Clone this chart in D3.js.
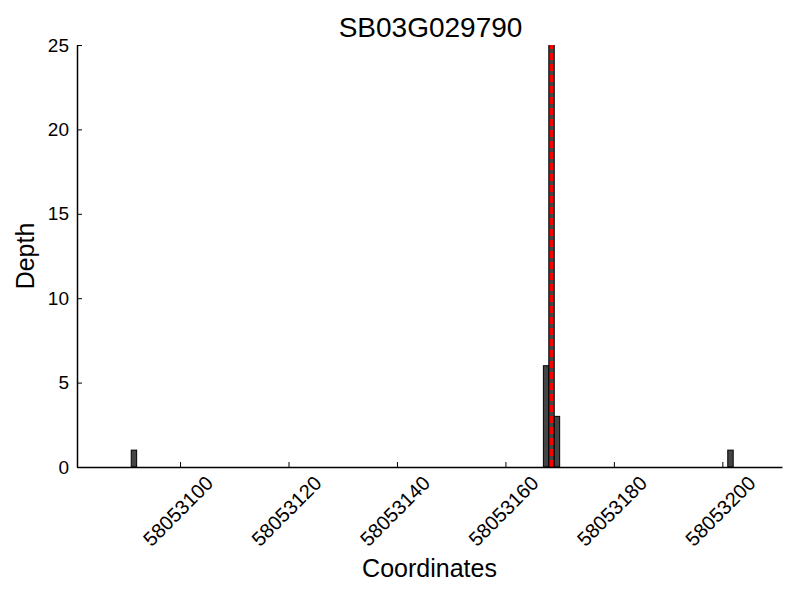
<!DOCTYPE html>
<html>
<head>
<meta charset="utf-8">
<script src="https://cdn.jsdelivr.net/npm/d3@7"></script>
<style>
  body { margin: 0; background: #fff; }
  text { font-family: "Liberation Sans", Arial, sans-serif; fill: #000; }
</style>
</head>
<body>
<div id="chart"></div>
<script>
// values
const title = 'SB03G029790';
const binStarts = [58053091, 58053167, 58053168, 58053169, 58053201];
const depths = [1, 6, 26, 3, 1];
const markerPos = 58053168.5;
const xDomain = [58053081, 58053211];
const xTicks = [58053100, 58053120, 58053140, 58053160, 58053180, 58053200];
const yTicks = [0, 5, 10, 15, 20, 25];

const width = 800;
const height = 600;
const margin = { top: 45, right: 18, bottom: 133, left: 77 };
const w = width - margin.left - margin.right;
const h = height - margin.top - margin.bottom;

const svg = d3.select('#chart')
    .append('svg')
    .attr('width', width)
    .attr('height', height);

svg.append('defs').append('clipPath')
    .attr('id', 'plot-clip')
    .append('rect')
    .attr('width', w)
    .attr('height', h);

const g = svg.append('g')
    .attr('transform', `translate(${margin.left}, ${margin.top})`);

const x = d3.scaleLinear().domain(xDomain).range([0, w]);
const y = d3.scaleLinear().domain([0, 25]).range([h, 0]);

// bars
const bars = g.append('g').attr('clip-path', 'url(#plot-clip)');
bars.selectAll('rect')
    .data(binStarts)
    .enter()
    .append('rect')
    .attr('x', d => x(d))
    .attr('y', (d, i) => y(depths[i]))
    .attr('width', d => x(d + 1) - x(d))
    .attr('height', (d, i) => y(0) - y(depths[i]))
    .attr('fill', '#444444')
    .attr('stroke', '#000')
    .attr('stroke-width', 1);

// marker line
bars.append('line')
    .attr('x1', x(markerPos))
    .attr('x2', x(markerPos))
    .attr('y1', y(0))
    .attr('y2', y(25))
    .attr('stroke', '#ff0000')
    .attr('stroke-width', 3)
    .attr('stroke-dasharray', '7,4');

// axes, ticks point inward
const xAxis = d3.axisBottom(x).tickValues(xTicks).tickSizeInner(-5).tickSizeOuter(0).tickFormat(d3.format('d'));
const yAxis = d3.axisLeft(y).tickValues(yTicks).tickSizeInner(-5).tickSizeOuter(0);

const gx = g.append('g')
    .attr('transform', `translate(0, ${h})`)
    .call(xAxis);
gx.select('.domain').attr('stroke-width', 1.5);
gx.selectAll('text')
    .attr('font-size', 20)
    .attr('text-anchor', 'middle')
    .attr('dy', null)
    .attr('y', 0)
    .attr('dominant-baseline', 'central')
    .attr('transform', 'translate(-2.5, 44) rotate(-45)');

const gy = g.append('g').call(yAxis);
gy.select('.domain').attr('stroke-width', 1.5);
gy.selectAll('text')
    .attr('font-size', 19)
    .attr('x', -8);

g.selectAll('.tick line').attr('stroke', '#000');

// labels
svg.append('text')
    .attr('x', margin.left + w / 2 + 1)
    .attr('y', 37)
    .attr('text-anchor', 'middle')
    .attr('font-size', 28)
    .text(title);

svg.append('text')
    .attr('x', margin.left + w / 2)
    .attr('y', 577)
    .attr('text-anchor', 'middle')
    .attr('font-size', 25)
    .text('Coordinates');

svg.append('text')
    .attr('transform', `translate(34, ${margin.top + h / 2}) rotate(-90)`)
    .attr('text-anchor', 'middle')
    .attr('font-size', 25)
    .text('Depth');
</script>
</body>
</html>
